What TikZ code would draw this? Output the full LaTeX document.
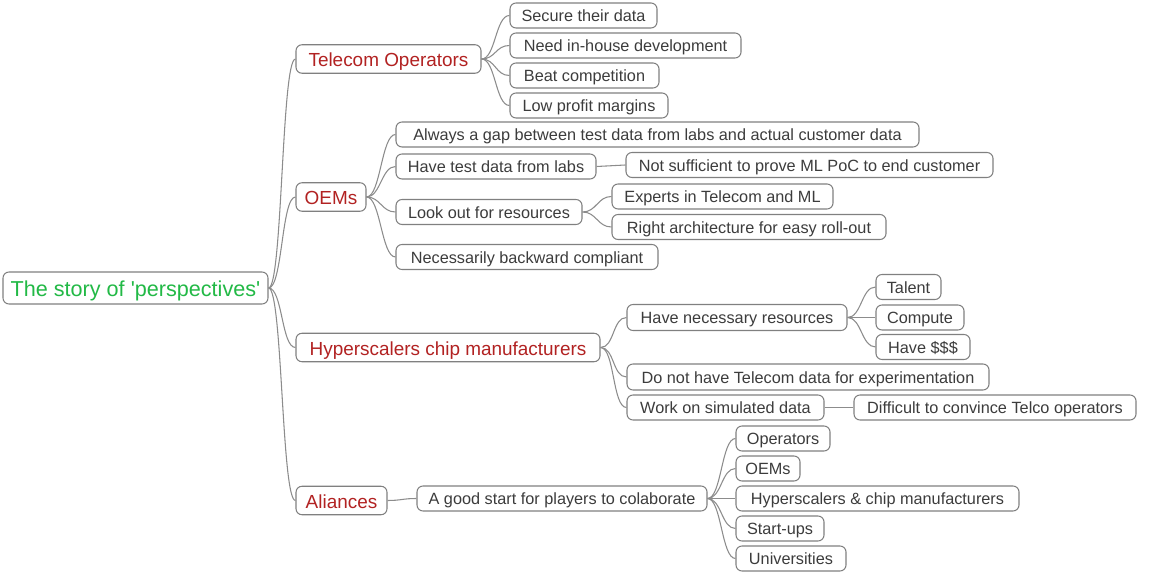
\documentclass[tikz,border=0pt]{standalone}
\usepackage{fontspec}
\setmainfont{Liberation Sans}
\begin{document}
\definecolor{boxline}{RGB}{128,128,128}
\definecolor{linkgray}{RGB}{140,140,140}
\definecolor{leaftext}{RGB}{60,60,60}
\definecolor{cattext}{RGB}{178,34,34}
\definecolor{roottext}{RGB}{34,185,70}
\begin{tikzpicture}[x=0.75pt,y=-0.75pt,
  box/.style={draw=boxline,line width=0.8pt,rounded corners=4.5pt,fill=white,
    inner sep=0pt,minimum height=25*0.75pt,text=leaftext,
    font=\fontsize{12.2}{14}\selectfont,text height=11.4pt,text depth=2.3pt},
  cat/.style={box,minimum height=28.5*0.75pt,text=cattext,
    font=\fontsize{14.2}{16}\selectfont,text height=14pt,text depth=2.6pt},
  rootbox/.style={box,minimum height=32*0.75pt,text=roottext,
    font=\fontsize{16.2}{18}\selectfont,text height=16pt,text depth=3.2pt},
  bw/.style={minimum width=#1*0.75pt},
  link/.style={draw=linkgray,line width=0.8pt}]
\useasboundingbox (0,0) rectangle (1170,580);

% root
\node[rootbox,bw=265] (root) at (135.5,288) {The story of \textquotesingle perspectives\textquotesingle};

% first level
\node[cat,bw=185] (tel) at (388.5,59) {Telecom Operators};
\node[cat,bw=70]  (oem) at (331,197) {OEMs};
\node[cat,bw=304] (hyp) at (448,347.5) {Hyperscalers chip manufacturers};
\node[cat,bw=91]  (ali) at (341.5,500.5) {Aliances};

% telecom operators
\node[box,bw=147] (t1) at (583.5,15.5) {Secure their data};
\node[box,bw=231] (t2) at (625.5,45.5) {Need in-house development};
\node[box,bw=149] (t3) at (584.5,75.5) {Beat competition};
\node[box,bw=158] (t4) at (589,105.5) {Low profit margins};

% OEMs
\node[box,bw=523] (o1) at (657.5,134.5) {Always a gap between test data from labs and actual customer data};
\node[box,bw=200] (o2) at (496,166.5) {Have test data from labs};
\node[box,bw=367] (o21) at (809.5,165) {Not sufficient to prove ML PoC to end customer};
\node[box,bw=186] (o3) at (489,212) {Look out for resources};
\node[box,bw=221] (o31) at (722.5,196.5) {Experts in Telecom and ML};
\node[box,bw=274] (o32) at (749,227) {Right architecture for easy roll-out};
\node[box,bw=262] (o4) at (527,257) {Necessarily backward compliant};

% hyperscalers
\node[box,bw=220,minimum height=26*0.75pt] (h1) at (737,317.5) {Have necessary resources};
\node[box,bw=65] (h11) at (908.5,287) {Talent};
\node[box,bw=88] (h12) at (920,317.5) {Compute};
\node[box,bw=94] (h13) at (923,347) {Have \$\$\$};
\node[box,bw=362,minimum height=26*0.75pt] (h2) at (808,377) {Do not have Telecom data for experimentation};
\node[box,bw=197] (h3) at (725.5,407.5) {Work on simulated data};
\node[box,bw=282] (h31) at (995,407.5) {Difficult to convince Telco operators};

% aliances
\node[box,bw=290] (a1) at (562,498.5) {A good start for players to colaborate};
\node[box,bw=94]  (a11) at (783,438.5) {Operators};
\node[box,bw=64]  (a12) at (768,468.5) {OEMs};
\node[box,bw=283] (a13) at (877.5,498.5) {Hyperscalers \& chip manufacturers};
\node[box,bw=88]  (a14) at (780,528.5) {Start-ups};
\node[box,bw=110] (a15) at (791,558.5) {Universities};

% connectors: horizontal exit, vertical run, horizontal entry
\foreach \p/\c in {root/tel,root/oem,root/hyp,root/ali,
                   tel/t1,tel/t2,tel/t3,tel/t4,
                   oem/o1,oem/o2,oem/o3,oem/o4,o2/o21,o3/o31,o3/o32,
                   hyp/h1,hyp/h2,hyp/h3,h1/h11,h1/h12,h1/h13,h3/h31,
                   ali/a1,a1/a11,a1/a12,a1/a13,a1/a14,a1/a15}
  \path[link] (\p.east) .. controls +(14,0) and +(-14,0) .. (\c.west);
\end{tikzpicture}
\end{document}
